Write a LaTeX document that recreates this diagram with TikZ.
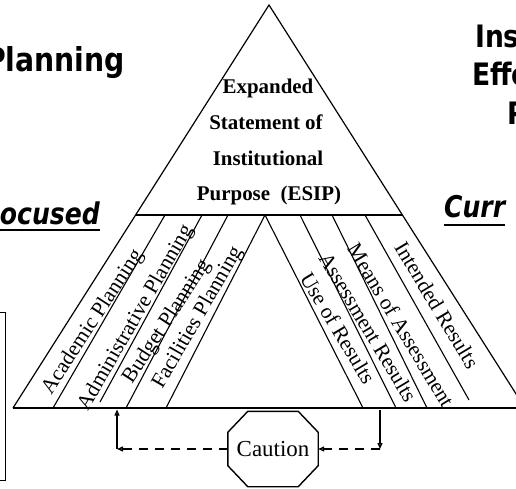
\documentclass[tikz,border=0pt]{standalone}
\usepackage{fontspec}
\setmainfont{Liberation Serif}
\newfontfamily\headfont{DejaVu Sans}
\usetikzlibrary{arrows.meta}
\begin{document}
\begin{tikzpicture}[x=1bp,y=-1bp,
  edge/.style={line width=1.2bp},
  strip/.style={line width=1.1bp},
  head/.style={font=\headfont\bfseries\fontsize{31}{33}\selectfont, inner sep=0, anchor=base west, xscale=0.86},
  headit/.style={font=\headfont\bfseries\itshape\fontsize{30}{32}\selectfont, inner sep=0, anchor=base west, xscale=0.84},
  striptext/.style={font=\fontsize{21.5}{23}\selectfont, inner sep=0},
  esip/.style={font=\bfseries\fontsize{21}{23}\selectfont, inner sep=0, anchor=base},
  tip/.style={-{Triangle[open,length=6bp,width=5bp]}},
  conn/.style={line width=1.3bp},
  dashline/.style={line width=1.3bp, dash pattern=on 9bp off 7bp},
  uline/.style={line width=2bp},
]
\useasboundingbox (0,0) rectangle (516,489);
\clip (0,0) rectangle (516,489);

% main triangle
\coordinate (apex) at (269,5);
\coordinate (bl) at (13,408);
\coordinate (br) at (525,408);
\coordinate (dl) at (135.6,215);
\coordinate (dr) at (402.4,215);
\coordinate (ia) at (265,215);
\draw[edge] (bl) -- (apex) -- (br);
\draw[line width=1.6bp] (bl) -- (br);
\draw[edge] (dl) -- (dr);

% left strips
\coordinate (l1t) at (165,215); \coordinate (l1b) at (53,408);
\coordinate (l2t) at (202,215); \coordinate (l2b) at (100,402);
\coordinate (l3t) at (228,215); \coordinate (l3b) at (126,408);
\coordinate (ilb) at (166,408);
\draw[strip] (l1t) -- (l1b);
\draw[strip] (l2t) -- (l2b);
\draw[strip] (l3t) -- (l3b);
\draw[strip] (ilb) -- (ia);

% right strips
\coordinate (irb) at (363,408);
\coordinate (r1t) at (300,215); \coordinate (r1b) at (396,408);
\coordinate (r2t) at (332,215); \coordinate (r2b) at (427,408);
\coordinate (r3t) at (365,215); \coordinate (r3b) at (469,400);
\draw[strip] (ia) -- (irb);
\draw[strip] (r1t) -- (r1b);
\draw[strip] (r2t) -- (r2b);
\draw[strip] (r3t) -- (r3b);

% ESIP text
\node[esip] (e1) at (268,94) {Expanded};
\node[esip] (e2) at (266,130) {Statement of};
\node[esip] (e3) at (268,166) {Institutional};
\node[esip] (e4) at (269,201) {Purpose\ \ (ESIP)};

% strip texts
\node[striptext, rotate=57] (t1) at (93,322) {Academic Planning};
\node[striptext, rotate=60] (t2) at (136,318) {Administrative Planning};
\node[striptext, rotate=57] (t3) at (167,322) {Budget Planning};
\node[striptext, rotate=60] (t4) at (198,318) {Facilities Planning};
\node[striptext, rotate=-59] (t5) at (338,328) {Use of Results};
\node[striptext, rotate=-59] (t6) at (368,327) {Assessment Results};
\node[striptext, rotate=-59] (t7) at (401,325) {Means of Assessment};
\node[striptext, rotate=-59] (t8) at (437,305) {Intended Results};

% headings
\node[head, anchor=base east, font=\headfont\bfseries\fontsize{33}{35}\selectfont] (hp) at (125,72) {Planning};
\node[head] (hi) at (475,48) {Ins};
\node[head] (he) at (472,86) {Effe};
\node[head] (hpp) at (507,125) {P};
\node[headit, anchor=base east] (ho) at (100,224) {ocused};
\node[headit] (hc) at (444,217) {Curr};
\draw[uline] ([yshift=-6bp]ho.base west) -- ([yshift=-6bp]ho.base east);
\draw[uline] ([yshift=-8bp]hc.base west) -- ([yshift=-8bp]hc.base east);

% partial box at left
\draw[line width=1bp] (-20,312) rectangle (5,480);

% caution octagon
\node[minimum width=90bp, minimum height=75bp, inner sep=0,
      font=\fontsize{23}{25}\selectfont] (caution) at (273,449) {Caution};
\draw[line width=1.4bp]
  ([xshift=20bp]caution.north west) -- ([xshift=-20bp]caution.north east)
  -- ([yshift=-21bp]caution.north east) -- ([yshift=21bp]caution.south east)
  -- ([xshift=-20bp]caution.south east) -- ([xshift=20bp]caution.south west)
  -- ([yshift=21bp]caution.south west) -- ([yshift=-21bp]caution.north west)
  -- cycle;

% connectors
\coordinate (lb) at (117,409.5);
\coordinate (lc) at (117,449);
\coordinate (rb) at (380,409.5);
\coordinate (rc) at (380,449);
\draw[conn, tip] (lc) -- (lb);
\draw[dashline, tip] (caution.west) -- (lc);
\draw[conn, tip] (rb) -- (rc);
\draw[dashline, tip] (rc) -- (caution.east);
\end{tikzpicture}
\end{document}
